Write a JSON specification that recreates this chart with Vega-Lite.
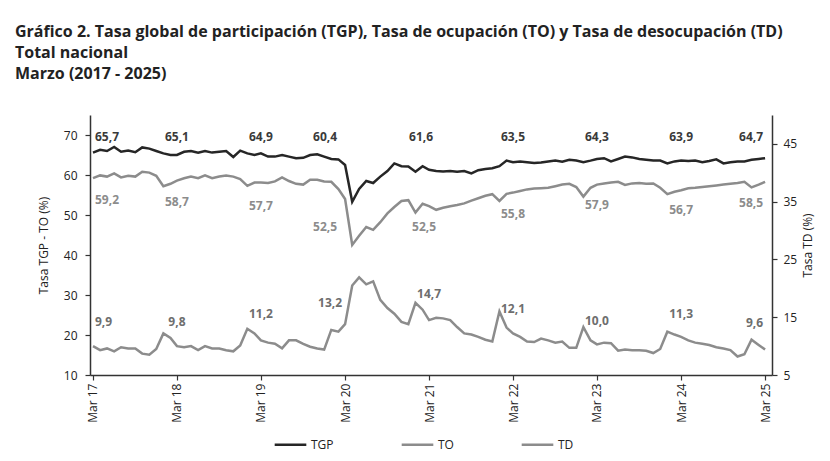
{
  "$schema": "https://vega.github.io/schema/vega-lite/v6.json",
  "width": 682,
  "height": 260,
  "autosize": {"type": "none"},
  "padding": {"left": 90, "top": 115, "right": 58, "bottom": 86},
  "background": "white",
  "config": {
    "view": {"stroke": null},
    "font": "Open Sans",
    "locale": {"number": {"decimal": ",", "thousands": ".", "grouping": [3], "currency": ["$", ""]}},
    "axis": {"grid": false, "domainColor": "#333333", "domainWidth": 1.5, "tickColor": "#333333", "tickWidth": 1.2, "tickSize": 5, "labelFont": "Open Sans", "labelFontSize": 12, "labelColor": "#222222", "titleFont": "Open Sans", "titleFontSize": 12, "titleFontWeight": "normal", "titleColor": "#222222"}
  },
  "title": {
    "text": ["Gráfico 2. Tasa global de participación (TGP), Tasa de ocupación (TO) y Tasa de desocupación (TD)", "Total nacional", "Marzo (2017 - 2025)"],
    "anchor": "start", "frame": "group", "dx": -75, "offset": 33,
    "fontSize": 16, "font": "Open Sans", "fontWeight": "bold", "color": "#222222", "lineHeight": 21
  },
  "datasets": {
    "serie": [
      {"date": "2017-03-01", "TGP": 65.6, "TO": 59.2, "TD": 10.0},
      {"date": "2017-04-01", "TGP": 66.3, "TO": 59.9, "TD": 9.3},
      {"date": "2017-05-01", "TGP": 66.0, "TO": 59.6, "TD": 9.6},
      {"date": "2017-06-01", "TGP": 67.0, "TO": 60.4, "TD": 9.1},
      {"date": "2017-07-01", "TGP": 65.8, "TO": 59.4, "TD": 9.8},
      {"date": "2017-08-01", "TGP": 66.1, "TO": 59.8, "TD": 9.6},
      {"date": "2017-09-01", "TGP": 65.7, "TO": 59.6, "TD": 9.6},
      {"date": "2017-10-01", "TGP": 66.9, "TO": 60.8, "TD": 8.7},
      {"date": "2017-11-01", "TGP": 66.6, "TO": 60.6, "TD": 8.5},
      {"date": "2017-12-01", "TGP": 66.0, "TO": 59.8, "TD": 9.5},
      {"date": "2018-01-01", "TGP": 65.4, "TO": 57.2, "TD": 12.2},
      {"date": "2018-02-01", "TGP": 65.0, "TO": 57.8, "TD": 11.4},
      {"date": "2018-03-01", "TGP": 65.0, "TO": 58.6, "TD": 10.0},
      {"date": "2018-04-01", "TGP": 65.8, "TO": 59.2, "TD": 9.8},
      {"date": "2018-05-01", "TGP": 66.0, "TO": 59.6, "TD": 10.0},
      {"date": "2018-06-01", "TGP": 65.6, "TO": 59.2, "TD": 9.3},
      {"date": "2018-07-01", "TGP": 66.0, "TO": 59.9, "TD": 10.0},
      {"date": "2018-08-01", "TGP": 65.6, "TO": 59.2, "TD": 9.6},
      {"date": "2018-09-01", "TGP": 65.8, "TO": 59.6, "TD": 9.6},
      {"date": "2018-10-01", "TGP": 66.0, "TO": 59.9, "TD": 9.3},
      {"date": "2018-11-01", "TGP": 64.5, "TO": 59.6, "TD": 9.1},
      {"date": "2018-12-01", "TGP": 66.1, "TO": 59.0, "TD": 10.1},
      {"date": "2019-01-01", "TGP": 65.4, "TO": 57.3, "TD": 13.0},
      {"date": "2019-02-01", "TGP": 65.0, "TO": 58.1, "TD": 12.2},
      {"date": "2019-03-01", "TGP": 65.4, "TO": 58.1, "TD": 11.0},
      {"date": "2019-04-01", "TGP": 64.6, "TO": 58.0, "TD": 10.6},
      {"date": "2019-05-01", "TGP": 64.6, "TO": 58.4, "TD": 10.4},
      {"date": "2019-06-01", "TGP": 65.0, "TO": 59.4, "TD": 9.6},
      {"date": "2019-07-01", "TGP": 64.6, "TO": 58.5, "TD": 11.0},
      {"date": "2019-08-01", "TGP": 64.2, "TO": 57.8, "TD": 11.0},
      {"date": "2019-09-01", "TGP": 64.3, "TO": 57.6, "TD": 10.4},
      {"date": "2019-10-01", "TGP": 65.0, "TO": 58.8, "TD": 9.9},
      {"date": "2019-11-01", "TGP": 65.2, "TO": 58.8, "TD": 9.6},
      {"date": "2019-12-01", "TGP": 64.6, "TO": 58.4, "TD": 9.4},
      {"date": "2020-01-01", "TGP": 64.0, "TO": 58.3, "TD": 12.8},
      {"date": "2020-02-01", "TGP": 63.9, "TO": 56.5, "TD": 12.5},
      {"date": "2020-03-01", "TGP": 62.5, "TO": 54.0, "TD": 13.8},
      {"date": "2020-04-01", "TGP": 53.3, "TO": 42.5, "TD": 20.5},
      {"date": "2020-05-01", "TGP": 56.5, "TO": 44.8, "TD": 21.9},
      {"date": "2020-06-01", "TGP": 58.5, "TO": 47.0, "TD": 20.7},
      {"date": "2020-07-01", "TGP": 58.0, "TO": 46.3, "TD": 21.2},
      {"date": "2020-08-01", "TGP": 59.6, "TO": 48.2, "TD": 18.0},
      {"date": "2020-09-01", "TGP": 61.0, "TO": 50.4, "TD": 16.6},
      {"date": "2020-10-01", "TGP": 62.9, "TO": 52.0, "TD": 15.6},
      {"date": "2020-11-01", "TGP": 62.2, "TO": 53.5, "TD": 14.2},
      {"date": "2020-12-01", "TGP": 62.1, "TO": 53.7, "TD": 13.8},
      {"date": "2021-01-01", "TGP": 60.8, "TO": 50.6, "TD": 17.5},
      {"date": "2021-02-01", "TGP": 62.2, "TO": 52.8, "TD": 16.3},
      {"date": "2021-03-01", "TGP": 61.3, "TO": 52.2, "TD": 14.5},
      {"date": "2021-04-01", "TGP": 61.0, "TO": 51.3, "TD": 14.9},
      {"date": "2021-05-01", "TGP": 60.9, "TO": 51.8, "TD": 14.8},
      {"date": "2021-06-01", "TGP": 61.0, "TO": 52.2, "TD": 14.5},
      {"date": "2021-07-01", "TGP": 60.8, "TO": 52.5, "TD": 13.3},
      {"date": "2021-08-01", "TGP": 61.0, "TO": 52.9, "TD": 12.2},
      {"date": "2021-09-01", "TGP": 60.4, "TO": 53.6, "TD": 12.0},
      {"date": "2021-10-01", "TGP": 61.2, "TO": 54.2, "TD": 11.6},
      {"date": "2021-11-01", "TGP": 61.5, "TO": 54.8, "TD": 11.1},
      {"date": "2021-12-01", "TGP": 61.7, "TO": 55.2, "TD": 10.8},
      {"date": "2022-01-01", "TGP": 62.2, "TO": 53.5, "TD": 16.0},
      {"date": "2022-02-01", "TGP": 63.6, "TO": 55.3, "TD": 13.2},
      {"date": "2022-03-01", "TGP": 63.2, "TO": 55.6, "TD": 12.2},
      {"date": "2022-04-01", "TGP": 63.4, "TO": 56.0, "TD": 11.6},
      {"date": "2022-05-01", "TGP": 63.2, "TO": 56.4, "TD": 10.8},
      {"date": "2022-06-01", "TGP": 63.0, "TO": 56.6, "TD": 10.7},
      {"date": "2022-07-01", "TGP": 63.1, "TO": 56.7, "TD": 11.3},
      {"date": "2022-08-01", "TGP": 63.4, "TO": 56.8, "TD": 11.0},
      {"date": "2022-09-01", "TGP": 63.6, "TO": 57.2, "TD": 10.6},
      {"date": "2022-10-01", "TGP": 63.3, "TO": 57.6, "TD": 10.8},
      {"date": "2022-11-01", "TGP": 63.8, "TO": 57.8, "TD": 9.7},
      {"date": "2022-12-01", "TGP": 63.6, "TO": 57.0, "TD": 9.7},
      {"date": "2023-01-01", "TGP": 63.2, "TO": 54.6, "TD": 13.3},
      {"date": "2023-02-01", "TGP": 63.6, "TO": 56.8, "TD": 11.0},
      {"date": "2023-03-01", "TGP": 64.0, "TO": 57.6, "TD": 10.3},
      {"date": "2023-04-01", "TGP": 64.2, "TO": 57.9, "TD": 10.6},
      {"date": "2023-05-01", "TGP": 63.4, "TO": 58.1, "TD": 10.5},
      {"date": "2023-06-01", "TGP": 64.0, "TO": 58.3, "TD": 9.2},
      {"date": "2023-07-01", "TGP": 64.6, "TO": 57.5, "TD": 9.4},
      {"date": "2023-08-01", "TGP": 64.4, "TO": 57.9, "TD": 9.3},
      {"date": "2023-09-01", "TGP": 64.0, "TO": 58.0, "TD": 9.3},
      {"date": "2023-10-01", "TGP": 63.8, "TO": 57.8, "TD": 9.2},
      {"date": "2023-11-01", "TGP": 63.6, "TO": 57.9, "TD": 8.8},
      {"date": "2023-12-01", "TGP": 63.6, "TO": 56.8, "TD": 9.5},
      {"date": "2024-01-01", "TGP": 62.9, "TO": 55.2, "TD": 12.5},
      {"date": "2024-02-01", "TGP": 63.4, "TO": 55.8, "TD": 12.0},
      {"date": "2024-03-01", "TGP": 63.6, "TO": 56.2, "TD": 11.6},
      {"date": "2024-04-01", "TGP": 63.5, "TO": 56.7, "TD": 11.0},
      {"date": "2024-05-01", "TGP": 63.6, "TO": 56.8, "TD": 10.6},
      {"date": "2024-06-01", "TGP": 63.2, "TO": 57.0, "TD": 10.4},
      {"date": "2024-07-01", "TGP": 63.5, "TO": 57.2, "TD": 10.2},
      {"date": "2024-08-01", "TGP": 63.9, "TO": 57.4, "TD": 9.8},
      {"date": "2024-09-01", "TGP": 62.9, "TO": 57.6, "TD": 9.6},
      {"date": "2024-10-01", "TGP": 63.2, "TO": 57.8, "TD": 9.3},
      {"date": "2024-11-01", "TGP": 63.4, "TO": 58.0, "TD": 8.2},
      {"date": "2024-12-01", "TGP": 63.4, "TO": 58.3, "TD": 8.6},
      {"date": "2025-01-01", "TGP": 63.8, "TO": 56.9, "TD": 11.1},
      {"date": "2025-02-01", "TGP": 64.0, "TO": 57.6, "TD": 10.2},
      {"date": "2025-03-01", "TGP": 64.2, "TO": 58.3, "TD": 9.4}
    ],
    "etiquetas": [
      {"date": "2017-03-01", "TGP": 65.7, "TO": 59.2, "TD": 9.9},
      {"date": "2018-03-01", "TGP": 65.1, "TO": 58.7, "TD": 9.8},
      {"date": "2019-03-01", "TGP": 64.9, "TO": 57.7, "TD": 11.2},
      {"date": "2020-03-01", "TGP": 60.4, "TO": 52.5, "TD": 13.2},
      {"date": "2021-03-01", "TGP": 61.6, "TO": 52.5, "TD": 14.7},
      {"date": "2022-03-01", "TGP": 63.5, "TO": 55.8, "TD": 12.1},
      {"date": "2023-03-01", "TGP": 64.3, "TO": 57.9, "TD": 10.0},
      {"date": "2024-03-01", "TGP": 63.9, "TO": 56.7, "TD": 11.3},
      {"date": "2025-03-01", "TGP": 64.7, "TO": 58.5, "TD": 9.6}
    ]
  },
  "layer": [
    {
      "layer": [
        {
          "data": {"name": "serie"},
          "transform": [{"fold": ["TGP", "TO"], "as": ["serie", "valor"]}],
          "mark": {"type": "line", "strokeWidth": 2.5, "interpolate": "linear"},
          "encoding": {
            "x": {
              "field": "date", "type": "temporal",
              "scale": {"type": "utc", "domain": [{"year": 2017, "month": 2, "date": 16, "utc": true}, {"year": 2025, "month": 3, "date": 31, "utc": true}]},
              "axis": {
                "title": null, "labelExpr": "utcFormat(datum.value, '%b %y')", "labelAngle": 270, "labelPadding": 3, "tickSize": 5,
                "values": [
                  {"year": 2017, "month": 3, "date": 1, "utc": true},
                  {"year": 2018, "month": 3, "date": 1, "utc": true},
                  {"year": 2019, "month": 3, "date": 1, "utc": true},
                  {"year": 2020, "month": 3, "date": 1, "utc": true},
                  {"year": 2021, "month": 3, "date": 1, "utc": true},
                  {"year": 2022, "month": 3, "date": 1, "utc": true},
                  {"year": 2023, "month": 3, "date": 1, "utc": true},
                  {"year": 2024, "month": 3, "date": 1, "utc": true},
                  {"year": 2025, "month": 3, "date": 1, "utc": true}
                ]
              }
            },
            "y": {
              "field": "valor", "type": "quantitative",
              "scale": {"domain": [10, 75], "nice": false, "zero": false},
              "axis": {"values": [10, 20, 30, 40, 50, 60, 70], "title": "Tasa TGP - TO (%)", "titlePadding": 13, "labelPadding": 8}
            },
            "color": {
              "field": "serie", "type": "nominal",
              "scale": {"domain": ["TGP", "TO", "TD"], "range": ["#262626", "#8c8c8c", "#8c8c8c"]},
              "legend": {"title": null, "orient": "none", "legendX": 183, "legendY": 312, "direction": "horizontal", "symbolType": "stroke", "symbolSize": 1000, "symbolStrokeWidth": 2.5, "labelFontSize": 12, "labelColor": "#222222", "labelFont": "Open Sans", "columnPadding": 62, "labelOffset": 3}
            }
          }
        },
        {
          "data": {"name": "etiquetas"},
          "mark": {
            "type": "text", "font": "Open Sans", "fontSize": 12, "fontWeight": "bold", "color": "#3a3a3a", "baseline": "middle",
            "align": {"expr": "utcyear(datum.date) == 2017 ? 'left' : (utcyear(datum.date) == 2025 ? 'right' : 'center')"},
            "dx": {"expr": "utcyear(datum.date) == 2017 ? 2 : (utcyear(datum.date) == 2025 ? -2 : (utcyear(datum.date) == 2020 ? -20 : (utcyear(datum.date) == 2021 ? -8 : 0)))"}
          },
          "encoding": {
            "x": {"field": "date", "type": "temporal"},
            "y": {"datum": 69.6},
            "text": {"field": "TGP", "type": "quantitative", "format": ".1f"}
          }
        },
        {
          "data": {"name": "etiquetas"},
          "mark": {
            "type": "text", "font": "Open Sans", "fontSize": 12, "fontWeight": "bold", "color": "#8c8c8c", "baseline": "middle", "dy": 22,
            "align": {"expr": "utcyear(datum.date) == 2017 ? 'left' : (utcyear(datum.date) == 2025 ? 'right' : 'center')"},
            "dx": {"expr": "utcyear(datum.date) == 2017 ? 2 : (utcyear(datum.date) == 2025 ? -2 : (utcyear(datum.date) == 2020 ? -20 : (utcyear(datum.date) == 2021 ? -5 : 0)))"}
          },
          "encoding": {
            "x": {"field": "date", "type": "temporal"},
            "y": {"field": "TO", "type": "quantitative"},
            "text": {"field": "TO", "type": "quantitative", "format": ".1f"}
          }
        }
      ]
    },
    {
      "layer": [
        {
          "data": {"name": "serie"},
          "transform": [{"fold": ["TD"], "as": ["serie", "valor"]}],
          "mark": {"type": "line", "strokeWidth": 2.5, "interpolate": "linear"},
          "encoding": {
            "x": {"field": "date", "type": "temporal"},
            "y": {
              "field": "valor", "type": "quantitative",
              "scale": {"domain": [5, 50], "nice": false, "zero": false},
              "axis": {"orient": "right", "values": [5, 15, 25, 35, 45], "title": "Tasa TD (%)", "titleAngle": 270, "titlePadding": 18, "labelPadding": 6}
            },
            "color": {
              "field": "serie", "type": "nominal",
              "scale": {"domain": ["TGP", "TO", "TD"], "range": ["#262626", "#8c8c8c", "#8c8c8c"]},
              "legend": {"title": null, "orient": "none", "legendX": 183, "legendY": 312, "direction": "horizontal", "symbolType": "stroke", "symbolSize": 1000, "symbolStrokeWidth": 2.5, "labelFontSize": 12, "labelColor": "#222222", "labelFont": "Open Sans", "columnPadding": 62, "labelOffset": 3}
            }
          }
        },
        {
          "data": {"name": "etiquetas"},
          "mark": {
            "type": "text", "font": "Open Sans", "fontSize": 12, "fontWeight": "bold", "color": "#6e6e6e", "baseline": "middle", "dy": -25,
            "align": {"expr": "utcyear(datum.date) == 2017 ? 'left' : (utcyear(datum.date) == 2025 ? 'right' : 'center')"},
            "dx": {"expr": "utcyear(datum.date) == 2017 ? 2 : (utcyear(datum.date) == 2025 ? -2 : (utcyear(datum.date) == 2020 ? -15 : 0))"}
          },
          "encoding": {
            "x": {"field": "date", "type": "temporal"},
            "y": {"field": "TD", "type": "quantitative"},
            "text": {"field": "TD", "type": "quantitative", "format": ".1f"}
          }
        }
      ]
    }
  ],
  "resolve": {"scale": {"y": "independent"}}
}
